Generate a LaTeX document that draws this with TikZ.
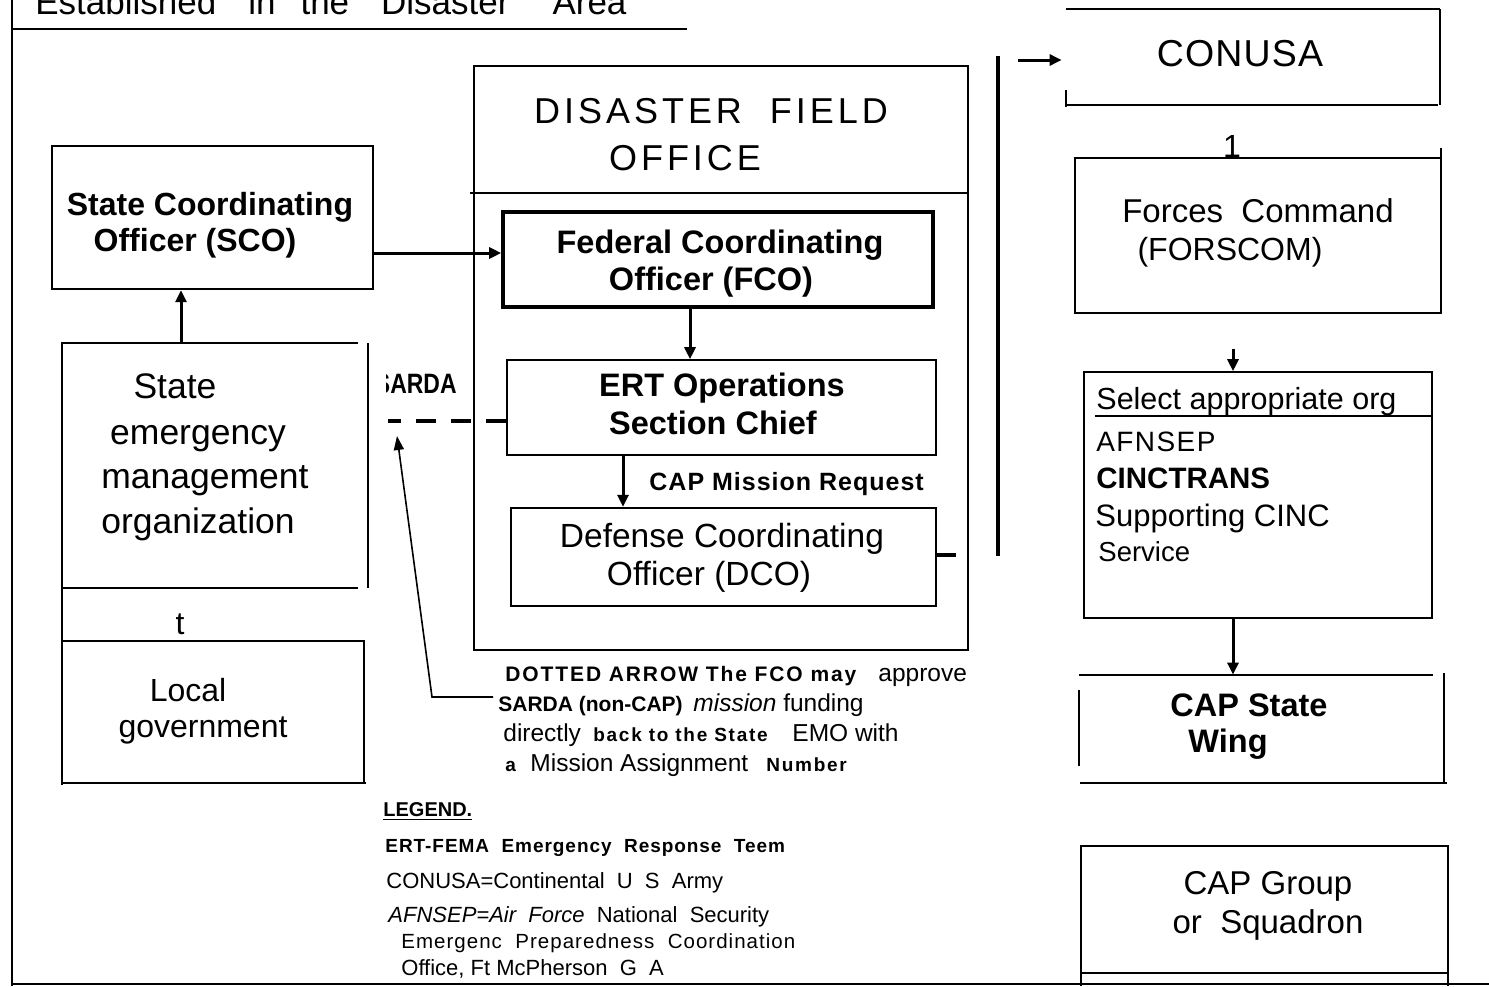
\documentclass[tikz,border=0pt]{standalone}
\usepackage{fontspec}
\setmainfont{Liberation Sans}
\usetikzlibrary{arrows.meta,fit}
\newcommand\myfs[1]{\fontsize{#1}{#1}\selectfont}
\newcommand\lsp[1]{\addfontfeatures{LetterSpace=#1}}
\begin{document}
\begin{tikzpicture}[x=0.5pt,y=-0.5pt,
  line/.style={line width=0.8pt},
  box/.style={draw,line width=0.8pt,inner sep=0pt},
  heavybox/.style={draw,line width=1.8pt,inner sep=0pt},
  plainbox/.style={inner sep=0pt},
  arr/.style={line width=1.5pt,-{Triangle[length=6pt,width=5.5pt]}},
  txt/.style={anchor=base,inner sep=0pt},
  ltxt/.style={anchor=base west,inner sep=0pt},
]
\useasboundingbox (0,0) rectangle (1489,986);

% frame and title
\node[ltxt] (title) at (35,14) {\myfs{17.5}Established\hspace{16pt}in\hspace{12.5pt}the\hspace{16pt}Disaster\hspace{21.5pt}Area};
\draw[line] (12,0) -- (12,986);
\draw[line] (12,29) -- (687,29);
\draw[line] (12,984) -- (1489,984);

% SCO
\node[box,line width=1.2pt,fit={(52,146)(373,289)}] (sco) {};
\node[txt] (scot1) at (210,215) {\myfs{16}\bfseries State Coordinating};
\node[txt] (scot2) at (195,251) {\myfs{16}\bfseries Officer (SCO)};

% State EMO
\node[plainbox,fit={(62,343)(368,588)}] (emo) {};
\draw[line] (358,343) -- (62,343) -- (62,785);
\draw[line] (62,588) -- (358,588);
\draw[line] (368,343) -- (368,588);
\node[txt] (emot1) at (175,398) {\myfs{17.75}State};
\node[txt] (emot2) at (198,444) {\myfs{17.75}emergency};
\node[txt] (emot3) at (205,488) {\myfs{17.75}management};
\node[txt] (emot4) at (198,533) {\myfs{17.75}organization};
\node[txt] (tlab) at (180,634) {\myfs{16}t};

% Local government
\node[plainbox,fit={(62,641)(364,783)}] (local) {};
\draw[line] (62,641) -- (364,641) -- (364,783);
\draw[line] (62,783) -- (366,783);
\node[txt] (loct1) at (188,701) {\myfs{16}Local};
\node[txt] (loct2) at (203,737) {\myfs{16}government};

% DFO
\node[box,line width=1pt,fit={(474,66)(968,650)}] (dfo) {};
\draw[line] (470,193) -- (dfo.east |- 0,193);
\node[txt] (dfot1) at (711,123) {\myfs{18}\lsp{11}DISASTER\ \ FIELD};
\node[txt] (dfot2) at (685,170) {\myfs{18}\lsp{11}OFFICE};

% FCO
\node[heavybox,fit={(503,212)(933,307)}] (fco) {};
\node[txt] (fcot1) at (720,253) {\myfs{16.25}\bfseries Federal Coordinating};
\node[txt] (fcot2) at (711,290) {\myfs{16.25}\bfseries Officer (FCO)};

% ERT
\node[box,fit={(507,360)(936,455)}] (ert) {};
\node[txt] (ertt1) at (722,396) {\myfs{16.25}\bfseries ERT Operations};
\node[txt] (ertt2) at (713,434) {\myfs{16.25}\bfseries Section Chief};

% DCO
\node[box,line width=1.2pt,fit={(511,508)(936,606)}] (dco) {};
\node[txt] (dcot1) at (722,547) {\myfs{16.75}Defense Coordinating};
\node[txt] (dcot2) at (709,585) {\myfs{16.75}Officer (DCO)};

\node[ltxt] (capreq) at (649,490) {\myfs{12.5}\bfseries\lsp{4}CAP Mission Request};

% arrows inside
\draw[arr] (sco.east |- 0,253) -- (fco.west |- 0,253);
\draw[arr] (181,0 |- emo.north) -- (181,0 |- sco.south);
\draw[arr] (690,0 |- fco.south) -- (690,0 |- ert.north);
\draw[arr] (623,0 |- ert.south) -- (623,0 |- dco.north);

% SARDA dashed
\coordinate (sardaend) at (388,421);
\draw[line width=2pt,dash pattern=on 10pt off 7.5pt] (ert.west |- 0,421) -- (sardaend);
\begin{scope}
\clip (386,360) rectangle (470,400);
\node[anchor=base east,inner sep=0pt] (sarda) at (457,393) {\myfs{14}\bfseries\scalebox{0.82}[1]{SARDA}};
\end{scope}

% pointer arrow
\coordinate (ptrstart) at (493,697);
\coordinate (ptrbend) at (432,697);
\coordinate (ptrtip) at (397,436);
\draw[line width=0.8pt,-{Triangle[length=7pt,width=5pt]}] (ptrstart) -- (ptrbend) -- (ptrtip);

% dotted arrow note
\node[ltxt] (n1a) at (505,681) {\myfs{10.5}\bfseries\lsp{9}DOTTED ARROW The FCO may};
\node[ltxt] (n1b) at (878,681) {\myfs{12.25}approve};
\node[ltxt] (n2a) at (498,711) {\myfs{10.5}\bfseries SARDA (non-CAP)};
\node[ltxt] (n2b) at (693,711) {\myfs{12.25}\textit{mission} funding};
\node[ltxt] (n3a) at (503,741) {\myfs{12.25}directly};
\node[ltxt] (n3b) at (593,741) {\myfs{9.5}\bfseries\lsp{9}back to the State};
\node[ltxt] (n3c) at (792,741) {\myfs{12.25}EMO with};
\node[ltxt] (n4a) at (505,771) {\myfs{9.5}\bfseries a};
\node[ltxt] (n4b) at (530,771) {\myfs{12.25}Mission Assignment};
\node[ltxt] (n4c) at (766,771) {\myfs{9.5}\bfseries\lsp{9}Number};

% legend
\node[ltxt] (leg0) at (383,816) {\myfs{10}\bfseries\underline{LEGEND.}};
\node[ltxt] (leg1) at (385,852) {\myfs{9.5}\bfseries\lsp{5}ERT-FEMA\ \ Emergency\ \ Response\ \ Teem};
\node[ltxt] (leg2) at (386,888) {\myfs{11}CONUSA=Continental\ \ U\ \ S\ \ Army};
\node[ltxt] (leg3) at (388,922) {\myfs{11}\textit{AFNSEP=Air\ \ Force}\ \ National\ \ Security};
\node[ltxt] (leg4) at (401,948) {\myfs{10.25}\lsp{5}Emergenc\ \ Preparedness\ \ Coordination};
\node[ltxt] (leg5) at (401,975) {\myfs{11}Office, Ft\ McPherson\ \ G\ \ A};

% right column
\draw[line width=2pt] (998,56) -- (998,556);
\coordinate (dcostub) at (956,555);
\draw[line width=2pt] (dco.east |- 0,555) -- (dcostub);

\node[plainbox,fit={(1066,9)(1440,105)}] (conusa) {};
\draw[line width=1.1pt] (1066,9) -- (1440,9);
\draw[line] (1440,9) -- (1440,105);
\draw[line] (1066,90) -- (1066,107);
\draw[line width=1.1pt] (1066,105) -- (1438,105);
\node[txt] (conusat) at (1240,66) {\myfs{18.75}\lsp{3}CONUSA};
\draw[arr,shorten >=2pt] (1018,60) -- (conusa.west |- 0,60);

\node[txt] (onelab) at (1232,157) {\myfs{16}1};

\node[box,fit={(1075,158)(1441,313)}] (forscom) {};
\draw[line] (1441,148) -- (1441,158);
\node[txt] (fort1) at (1258,222) {\myfs{16.5}Forces\ \ Command};
\node[txt] (fort2) at (1230,260) {\myfs{16}(FORSCOM)};

\node[box,fit={(1084,372)(1432,618)}] (sel) {};
\draw[line] (1095,416) -- (sel.east |- 0,416);
\draw[arr] (1233,349) -- (1233,0 |- sel.north);
\node[ltxt] (selt0) at (1096,409) {\myfs{15.25}Select appropriate org};
\node[ltxt] (selt1) at (1096,451) {\myfs{14}\lsp{5}AFNSEP};
\node[ltxt] (selt2) at (1096,488) {\myfs{14.75}\bfseries CINCTRANS};
\node[ltxt] (selt3) at (1095,526) {\myfs{15.5}Supporting CINC};
\node[ltxt] (selt4) at (1098,561) {\myfs{13.75}Service};

\node[plainbox,fit={(1079,675)(1444,783)}] (wing) {};
\draw[arr] (1233,0 |- sel.south) -- (1233,0 |- wing.north);
\draw[line] (1079,675) -- (1433,675);
\draw[line] (1444,673) -- (1444,782);
\draw[line] (1079,690) -- (1079,766);
\draw[line] (1080,783) -- (1447,783);
\node[txt] (wingt1) at (1249,716) {\myfs{16.25}\bfseries CAP State};
\node[txt] (wingt2) at (1228,752) {\myfs{16.25}\bfseries Wing};

\node[box,fit={(1081,846)(1448,973)}] (group) {};
\draw[line] (1081,973) -- (1081,986);
\draw[line] (1448,973) -- (1448,986);
\node[txt] (groupt1) at (1268,894) {\myfs{16.5}CAP Group};
\node[txt] (groupt2) at (1268,933) {\myfs{16.5}or\ \ Squadron};
\end{tikzpicture}
\end{document}
